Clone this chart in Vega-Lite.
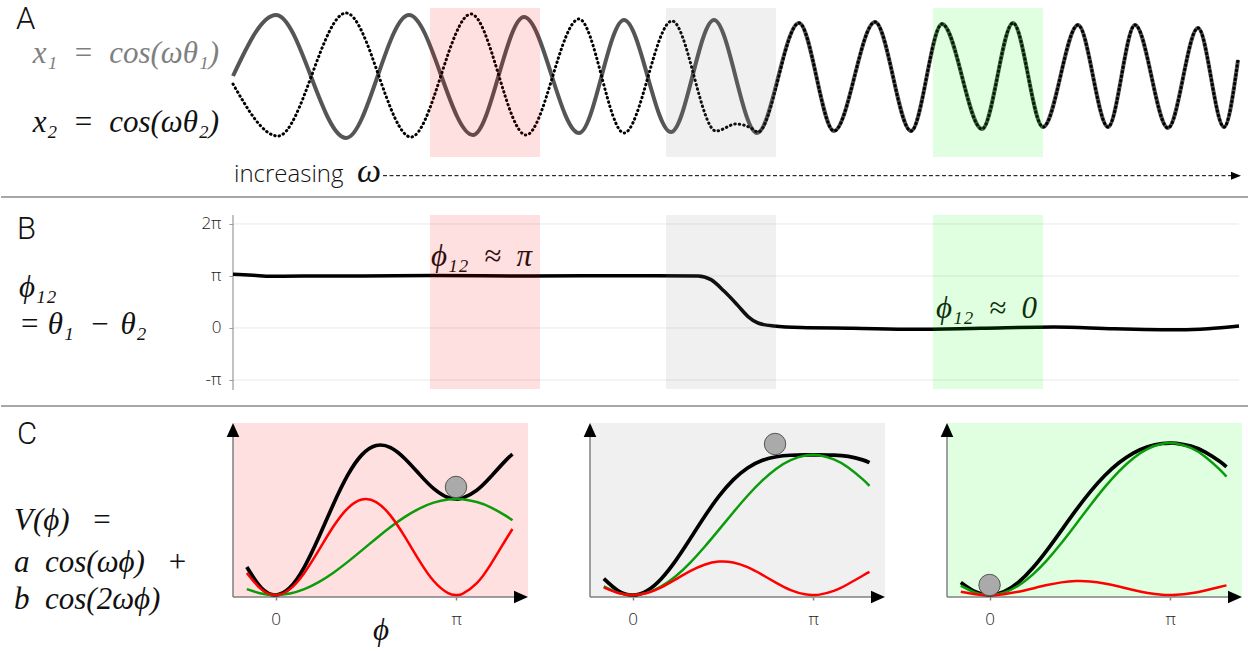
{
  "$schema": "https://vega.github.io/schema/vega-lite/v6.json",
  "padding": 0,
  "bounds": "flush",
  "spacing": 0,
  "background": "white",
  "config": {"view": {"stroke": null}},
  "datasets": {
    "solid": [
      {"t":0,"v":0},{"t":43,"v":1.0},{"t":113,"v":-1.016},{"t":176,"v":1.0},{"t":240,"v":-0.967},{"t":291,"v":0.967},{"t":346,"v":-0.934},{"t":391,"v":0.918},{"t":438,"v":-0.918},{"t":481,"v":0.918},{"t":524,"v":-0.934},{"t":566,"v":0.869},{"t":601,"v":-0.902},{"t":642,"v":0.885},{"t":678,"v":-0.902},{"t":709,"v":0.852},{"t":749,"v":-0.869},{"t":780,"v":0.869},{"t":810,"v":-0.836},{"t":845,"v":0.836},{"t":875,"v":-0.836},{"t":902,"v":0.836},{"t":935,"v":-0.852},{"t":965,"v":0.787},{"t":991,"v":-0.836},{"t":1005,"v":0.262}
    ],
    "dotted": [
      {"t":0,"v":-0.131},{"t":45,"v":-0.984},{"t":113,"v":1.033},{"t":178,"v":-1.0},{"t":238,"v":1.016},{"t":293,"v":-0.967},{"t":346,"v":0.934},{"t":391,"v":-0.934},{"t":439,"v":0.902},{"t":483,"v":-0.902},{"t":503,"v":-0.787},{"t":518,"v":-0.852},{"t":525,"v":-0.918},{"t":566,"v":0.869},{"t":601,"v":-0.902},{"t":642,"v":0.885},{"t":678,"v":-0.902},{"t":709,"v":0.852},{"t":749,"v":-0.869},{"t":780,"v":0.869},{"t":810,"v":-0.836},{"t":845,"v":0.836},{"t":875,"v":-0.836},{"t":902,"v":0.836},{"t":935,"v":-0.852},{"t":965,"v":0.787},{"t":991,"v":-0.836},{"t":1005,"v":0.262}
    ],
    "phase": [
      {"t":0,"v":1.035},{"t":20,"v":1.015},{"t":38,"v":0.995},{"t":70,"v":0.998},{"t":130,"v":1.0},{"t":200,"v":1.008},{"t":300,"v":1.0},{"t":400,"v":1.006},{"t":465,"v":1.0},{"t":478,"v":0.93},{"t":491,"v":0.71},{"t":505,"v":0.43},{"t":515,"v":0.22},{"t":525,"v":0.096},{"t":541,"v":0.038},{"t":568,"v":0.008},{"t":620,"v":-0.005},{"t":681,"v":-0.025},{"t":748,"v":-0.004},{"t":821,"v":0.02},{"t":881,"v":-0.015},{"t":948,"v":-0.035},{"t":975,"v":-0.015},{"t":1006,"v":0.038}
    ],
    "c1": [
      {"phi":-0.5,"green":0.122,"red":0.46,"total":0.582},{"phi":-0.25,"green":0.031,"red":0.122,"total":0.153},{"phi":0,"green":0,"red":0,"total":0},{"phi":0.25,"green":0.031,"red":0.122,"total":0.153},{"phi":0.5,"green":0.122,"red":0.46,"total":0.582},{"phi":0.75,"green":0.268,"red":0.929,"total":1.198},{"phi":1.0,"green":0.46,"red":1.416,"total":1.876},{"phi":1.25,"green":0.685,"red":1.801,"total":2.486},{"phi":1.5,"green":0.929,"red":1.99,"total":2.919},{"phi":1.75,"green":1.178,"red":1.936,"total":3.115},{"phi":2.0,"green":1.416,"red":1.654,"total":3.07},{"phi":2.25,"green":1.628,"red":1.211,"total":2.839},{"phi":2.5,"green":1.801,"red":0.716,"total":2.518},{"phi":2.75,"green":1.924,"red":0.291,"total":2.216},{"phi":3.0,"green":1.99,"red":0.04,"total":2.03},{"phi":3.1416,"green":2.0,"red":0,"total":2.0},{"phi":3.25,"green":1.994,"red":0.023,"total":2.018},{"phi":3.5,"green":1.936,"red":0.246,"total":2.183},{"phi":3.75,"green":1.821,"red":0.653,"total":2.474},{"phi":4.0,"green":1.654,"red":1.146,"total":2.799},{"phi":4.12,"green":1.558,"red":1.376,"total":2.934}
    ],
    "c2": [
      {"phi":-0.5,"green":0.179,"red":0.161,"total":0.34},{"phi":-0.25,"green":0.045,"red":0.043,"total":0.088},{"phi":0,"green":0,"red":0,"total":0},{"phi":0.25,"green":0.045,"red":0.043,"total":0.088},{"phi":0.5,"green":0.179,"red":0.161,"total":0.34},{"phi":0.75,"green":0.392,"red":0.325,"total":0.717},{"phi":1.0,"green":0.671,"red":0.496,"total":1.167},{"phi":1.25,"green":1.0,"red":0.63,"total":1.63},{"phi":1.5,"green":1.357,"red":0.696,"total":2.053},{"phi":1.75,"green":1.72,"red":0.678,"total":2.398},{"phi":2.0,"green":2.068,"red":0.579,"total":2.647},{"phi":2.25,"green":2.377,"red":0.424,"total":2.801},{"phi":2.5,"green":2.63,"red":0.251,"total":2.881},{"phi":2.75,"green":2.809,"red":0.102,"total":2.911},{"phi":3.0,"green":2.905,"red":0.014,"total":2.919},{"phi":3.1416,"green":2.92,"red":0,"total":2.92},{"phi":3.25,"green":2.911,"red":0.008,"total":2.919},{"phi":3.5,"green":2.827,"red":0.086,"total":2.913},{"phi":3.75,"green":2.658,"red":0.229,"total":2.887},{"phi":4.0,"green":2.414,"red":0.401,"total":2.815},{"phi":4.12,"green":2.275,"red":0.482,"total":2.757}
    ],
    "c3": [
      {"phi":-0.5,"green":0.194,"red":0.067,"total":0.261},{"phi":-0.25,"green":0.049,"red":0.018,"total":0.067},{"phi":0,"green":0,"red":0,"total":0},{"phi":0.25,"green":0.049,"red":0.018,"total":0.067},{"phi":0.5,"green":0.194,"red":0.067,"total":0.261},{"phi":0.75,"green":0.425,"red":0.136,"total":0.561},{"phi":1.0,"green":0.728,"red":0.207,"total":0.935},{"phi":1.25,"green":1.084,"red":0.263,"total":1.347},{"phi":1.5,"green":1.471,"red":0.291,"total":1.762},{"phi":1.75,"green":1.865,"red":0.283,"total":2.148},{"phi":2.0,"green":2.242,"red":0.241,"total":2.483},{"phi":2.25,"green":2.577,"red":0.177,"total":2.754},{"phi":2.5,"green":2.851,"red":0.105,"total":2.956},{"phi":2.75,"green":3.046,"red":0.043,"total":3.089},{"phi":3.0,"green":3.15,"red":0.006,"total":3.156},{"phi":3.1416,"green":3.166,"red":0,"total":3.166},{"phi":3.25,"green":3.157,"red":0.003,"total":3.16},{"phi":3.5,"green":3.065,"red":0.036,"total":3.101},{"phi":3.75,"green":2.882,"red":0.095,"total":2.977},{"phi":4.0,"green":2.618,"red":0.167,"total":2.785},{"phi":4.12,"green":2.467,"red":0.201,"total":2.668}
    ]
  },
  "vconcat": [
    {
      "width": 1248, "height": 197,
      "encoding": {
        "x": {"field": "t", "type": "quantitative", "scale": {"domain": [-232, 1016], "nice": false, "zero": false}, "axis": null},
        "y": {"field": "v", "type": "quantitative", "scale": {"domain": [-1.98361, 1.2459], "nice": false, "zero": false}, "axis": null}
      },
      "layer": [
        {"data": {"values": [{"t": -232, "t2": 1016, "v": -1.98361}]}, "mark": {"type": "rule", "color": "#8a8a8a", "strokeWidth": 1.5}, "encoding": {"x2": {"field": "t2"}}},
        {"data": {"name": "solid"}, "mark": {"type": "line", "color": "#555555", "strokeWidth": 4, "interpolate": "monotone"}},
        {"data": {"name": "dotted"}, "mark": {"type": "line", "color": "black", "strokeWidth": 3, "strokeDash": [0.5, 4], "strokeCap": "round", "interpolate": "monotone"}},
        {"data": {"values": [
            {"t": 197, "t2": 307, "v": 1.115, "v2": -1.328, "state": "anti"},
            {"t": 433, "t2": 543, "v": 1.115, "v2": -1.328, "state": "trans"},
            {"t": 700, "t2": 810, "v": 1.115, "v2": -1.328, "state": "in"}]},
         "mark": {"type": "rect", "opacity": 0.12},
         "encoding": {"x2": {"field": "t2"}, "y2": {"field": "v2"},
           "color": {"field": "state", "type": "nominal", "scale": {"domain": ["anti", "trans", "in"], "range": ["#ff0000", "#808080", "#00ff00"]}, "legend": null}}},
        {"data": {"values": [{"t": -217, "v": 1.164, "label": "A"}]}, "mark": {"type": "text", "font": "Roboto", "fontWeight": 300, "fontSize": 31, "align": "left", "baseline": "top", "color": "#111111"}, "encoding": {"text": {"field": "label"}}},
        {"data": {"values": [{"t": -14, "v": 0.205, "label": "x₁\u2002=\u2002cos(ωθ₁)"}]}, "mark": {"type": "text", "font": "Liberation Serif", "fontStyle": "italic", "fontSize": 31, "align": "right", "baseline": "alphabetic", "color": "#7f7f7f"}, "encoding": {"text": {"field": "label"}}},
        {"data": {"values": [{"t": -14, "v": -0.913, "label": "x₂\u2002=\u2002cos(ωθ₂)"}]}, "mark": {"type": "text", "font": "Liberation Serif", "fontStyle": "italic", "fontSize": 31, "align": "right", "baseline": "alphabetic", "color": "#111111"}, "encoding": {"text": {"field": "label"}}},
        {"data": {"values": [{"t": 1, "v": -1.733, "label": "increasing"}]}, "mark": {"type": "text", "font": "Open Sans", "fontWeight": 300, "fontSize": 24, "align": "left", "baseline": "alphabetic", "color": "#111111"}, "encoding": {"text": {"field": "label"}}},
        {"data": {"values": [{"t": 124, "v": -1.733, "label": "ω"}]}, "mark": {"type": "text", "font": "Liberation Serif", "fontStyle": "italic", "fontSize": 34, "align": "left", "baseline": "alphabetic", "color": "#111111"}, "encoding": {"text": {"field": "label"}}},
        {"data": {"values": [{"t": 150, "t2": 1000, "v": -1.634}]}, "mark": {"type": "rule", "color": "black", "strokeWidth": 1, "strokeDash": [4, 2.5]}, "encoding": {"x2": {"field": "t2"}}},
        {"data": {"values": [{"t": 1003, "v": -1.634}]}, "mark": {"type": "point", "shape": "M1,0L-1,-0.8L-1,0.8Z", "size": 100, "filled": true, "color": "black", "opacity": 1}}
      ]
    },
    {
      "width": 1248, "height": 209,
      "encoding": {
        "x": {"field": "t", "type": "quantitative", "scale": {"domain": [-232, 1016], "nice": false, "zero": false}, "axis": null},
        "y": {"field": "v", "type": "quantitative", "scale": {"domain": [-1.5, 2.5192], "nice": false, "zero": false},
          "axis": {"values": [-1, 0, 1, 2], "labelExpr": "datum.value == 2 ? '2π' : datum.value == 1 ? 'π' : datum.value == 0 ? '0' : '-π'", "offset": -232, "tickSize": 4, "tickColor": "#999999", "labelPadding": 8, "domain": false, "grid": false, "title": null, "labelFont": "Open Sans", "labelFontWeight": 300, "labelFontSize": 17, "labelColor": "#222222"}}
      },
      "layer": [
        {"data": {"values": [{"t": -232, "t2": 1016, "v": -1.5}]}, "mark": {"type": "rule", "color": "#8a8a8a", "strokeWidth": 1.5}, "encoding": {"x2": {"field": "t2"}}},
        {"data": {"values": [{"t": 0, "t2": 1006, "v": -1}, {"t": 0, "t2": 1006, "v": 0}, {"t": 0, "t2": 1006, "v": 1}, {"t": 0, "t2": 1006, "v": 2}]}, "mark": {"type": "rule", "color": "#e8e8e8", "strokeWidth": 1}, "encoding": {"x2": {"field": "t2"}}},
        {"data": {"values": [{"t": 0, "v": -1.192, "v2": 2.173}]}, "mark": {"type": "rule", "color": "#999999", "strokeWidth": 1.2}, "encoding": {"y2": {"field": "v2"}}},
        {"data": {"name": "phase"}, "mark": {"type": "line", "color": "black", "strokeWidth": 3.5, "interpolate": "monotone"}},
        {"data": {"values": [{"t": -216, "v": 2.173, "label": "B"}]}, "mark": {"type": "text", "font": "Roboto", "fontWeight": 300, "fontSize": 31, "align": "left", "baseline": "top", "color": "#111111"}, "encoding": {"text": {"field": "label"}}},
        {"data": {"values": [{"t": -214, "v": 0.596, "label": "ϕ₁₂"}, {"t": -214, "v": -0.125, "label": "= θ₁\u2002−\u2004θ₂"}]}, "mark": {"type": "text", "font": "Liberation Serif", "fontStyle": "italic", "fontSize": 31, "align": "left", "baseline": "alphabetic", "color": "#111111"}, "encoding": {"text": {"field": "label"}}},
        {"data": {"values": [{"t": 198, "v": 1.192, "label": "ϕ₁₂\u2002≈\u2002π"}, {"t": 703, "v": 0.192, "label": "ϕ₁₂\u2002≈\u20020"}]}, "mark": {"type": "text", "font": "Liberation Serif", "fontStyle": "italic", "fontSize": 31, "align": "left", "baseline": "alphabetic", "color": "#111111"}, "encoding": {"text": {"field": "label"}}},
        {"data": {"values": [
            {"t": 197, "t2": 307, "v": 2.173, "v2": -1.173, "state": "anti"},
            {"t": 433, "t2": 543, "v": 2.173, "v2": -1.173, "state": "trans"},
            {"t": 700, "t2": 810, "v": 2.173, "v2": -1.173, "state": "in"}]},
         "mark": {"type": "rect", "opacity": 0.12},
         "encoding": {"x2": {"field": "t2"}, "y2": {"field": "v2"},
           "color": {"field": "state", "type": "nominal", "scale": {"domain": ["anti", "trans", "in"], "range": ["#ff0000", "#808080", "#00ff00"]}, "legend": null}}}
      ]
    },
    {
      "hconcat": [
        {
          "width": 527, "height": 245,
          "encoding": {
            "x": {"field": "phi", "type": "quantitative", "scale": {"domain": [-4.7744, 4.39], "nice": false, "zero": false},
              "axis": {"values": [0, 3.14159], "labelExpr": "datum.value < 1 ? '0' : 'π'", "offset": -54, "tickSize": 3, "tickColor": "#808080", "tickWidth": 1.5, "labelPadding": 11, "domain": false, "grid": false, "title": null, "labelFont": "Open Sans", "labelFontWeight": 300, "labelFontSize": 17, "labelColor": "#222222"}}
          },
          "layer": [
            {"data": {"values": [{"phi": -0.74, "phi2": 4.39, "v": -0.0417, "v2": 3.5833}]}, "mark": {"type": "rect", "color": "#ff0000", "opacity": 0.12}, "encoding": {"x2": {"field": "phi2"}, "y": {"field": "v", "type": "quantitative", "scale": {"domain": [-1.1667, 3.9375], "nice": false, "zero": false}, "axis": null}, "y2": {"field": "v2"}}},
            {"data": {"values": [{"phi": -0.74, "phi2": -0.74, "v": -0.0417, "v2": 3.4375}, {"phi": -0.74, "phi2": 4.268, "v": -0.0417, "v2": -0.0417}]}, "mark": {"type": "rule", "color": "#808080", "strokeWidth": 1.5}, "encoding": {"x2": {"field": "phi2"}, "y": {"field": "v", "type": "quantitative", "scale": {"domain": [-1.1667, 3.9375], "nice": false, "zero": false}, "axis": null}, "y2": {"field": "v2"}}},
            {"data": {"values": [{"phi": -0.74, "v": 3.4375}]}, "mark": {"type": "point", "shape": "M0,-1L0.9,1L-0.9,1Z", "size": 196, "filled": true, "color": "black", "opacity": 1}, "encoding": {"y": {"field": "v", "type": "quantitative", "scale": {"domain": [-1.1667, 3.9375], "nice": false, "zero": false}, "axis": null}}},
            {"data": {"values": [{"phi": 4.268, "v": -0.0417}]}, "mark": {"type": "point", "shape": "M1,0L-1,-0.9L-1,0.9Z", "size": 196, "filled": true, "color": "black", "opacity": 1}, "encoding": {"y": {"field": "v", "type": "quantitative", "scale": {"domain": [-1.1667, 3.9375], "nice": false, "zero": false}, "axis": null}}},
            {"data": {"name": "c1"}, "mark": {"type": "line", "color": "black", "strokeWidth": 3.7, "interpolate": "natural"}, "encoding": {"y": {"field": "total", "type": "quantitative", "scale": {"domain": [-1.1667, 3.9375], "nice": false, "zero": false}, "axis": null}}},
            {"data": {"name": "c1"}, "mark": {"type": "line", "color": "#0b9c0b", "strokeWidth": 2.5, "interpolate": "natural"}, "encoding": {"y": {"field": "green", "type": "quantitative", "scale": {"domain": [-1.1667, 3.9375], "nice": false, "zero": false}, "axis": null}}},
            {"data": {"name": "c1"}, "mark": {"type": "line", "color": "#ff0000", "strokeWidth": 2.5, "interpolate": "natural"}, "encoding": {"y": {"field": "red", "type": "quantitative", "scale": {"domain": [-1.1667, 3.9375], "nice": false, "zero": false}, "axis": null}}},
            {"data": {"values": [{"phi": 3.138, "v": 2.25}]}, "mark": {"type": "point", "shape": "circle", "size": 460, "filled": true, "fill": "#aaaaaa", "stroke": "#555555", "strokeWidth": 1, "opacity": 1}, "encoding": {"y": {"field": "v", "type": "quantitative", "scale": {"domain": [-1.1667, 3.9375], "nice": false, "zero": false}, "axis": null}}},
            {"data": {"values": [{"phi": -4.496, "v": 3.646, "label": "C"}]}, "mark": {"type": "text", "font": "Roboto", "fontWeight": 300, "fontSize": 31, "align": "left", "baseline": "top", "color": "#111111"}, "encoding": {"text": {"field": "label"}, "y": {"field": "v", "type": "quantitative", "scale": {"domain": [-1.1667, 3.9375], "nice": false, "zero": false}, "axis": null}}},
            {"data": {"values": [{"phi": -4.548, "v": 1.354, "label": "V(ϕ)\u2002\u2009="}, {"phi": -4.548, "v": 0.479, "label": "a\u2002cos(ωϕ)\u2002\u2009+"}, {"phi": -4.548, "v": -0.2917, "label": "b\u2002cos(2ωϕ)"}]}, "mark": {"type": "text", "font": "Liberation Serif", "fontStyle": "italic", "fontSize": 31, "align": "left", "baseline": "alphabetic", "color": "#111111"}, "encoding": {"text": {"field": "label"}, "y": {"field": "v", "type": "quantitative", "scale": {"domain": [-1.1667, 3.9375], "nice": false, "zero": false}, "axis": null}}},
            {"data": {"values": [{"phi": 1.834, "v": -0.9375, "label": "ϕ"}]}, "mark": {"type": "text", "font": "Liberation Serif", "fontStyle": "italic", "fontSize": 31, "align": "center", "baseline": "alphabetic", "color": "#111111"}, "encoding": {"text": {"field": "label"}, "y": {"field": "v", "type": "quantitative", "scale": {"domain": [-1.1667, 3.9375], "nice": false, "zero": false}, "axis": null}}}
          ]
        },
        {
          "width": 295, "height": 245,
          "encoding": {
            "x": {"field": "phi", "type": "quantitative", "scale": {"domain": [-0.74, 4.39], "nice": false, "zero": false},
              "axis": {"values": [0, 3.14159], "labelExpr": "datum.value < 1 ? '0' : 'π'", "offset": -54, "tickSize": 3, "tickColor": "#808080", "tickWidth": 1.5, "labelPadding": 11, "domain": false, "grid": false, "title": null, "labelFont": "Open Sans", "labelFontWeight": 300, "labelFontSize": 17, "labelColor": "#222222"}}
          },
          "layer": [
            {"data": {"values": [{"phi": -0.74, "phi2": 4.39, "v": -0.0417, "v2": 3.5833}]}, "mark": {"type": "rect", "color": "#808080", "opacity": 0.12}, "encoding": {"x2": {"field": "phi2"}, "y": {"field": "v", "type": "quantitative", "scale": {"domain": [-1.1667, 3.9375], "nice": false, "zero": false}, "axis": null}, "y2": {"field": "v2"}}},
            {"data": {"values": [{"phi": -0.74, "phi2": -0.74, "v": -0.0417, "v2": 3.4375}, {"phi": -0.74, "phi2": 4.268, "v": -0.0417, "v2": -0.0417}]}, "mark": {"type": "rule", "color": "#808080", "strokeWidth": 1.5}, "encoding": {"x2": {"field": "phi2"}, "y": {"field": "v", "type": "quantitative", "scale": {"domain": [-1.1667, 3.9375], "nice": false, "zero": false}, "axis": null}, "y2": {"field": "v2"}}},
            {"data": {"values": [{"phi": -0.74, "v": 3.4375}]}, "mark": {"type": "point", "shape": "M0,-1L0.9,1L-0.9,1Z", "size": 196, "filled": true, "color": "black", "opacity": 1}, "encoding": {"y": {"field": "v", "type": "quantitative", "scale": {"domain": [-1.1667, 3.9375], "nice": false, "zero": false}, "axis": null}}},
            {"data": {"values": [{"phi": 4.268, "v": -0.0417}]}, "mark": {"type": "point", "shape": "M1,0L-1,-0.9L-1,0.9Z", "size": 196, "filled": true, "color": "black", "opacity": 1}, "encoding": {"y": {"field": "v", "type": "quantitative", "scale": {"domain": [-1.1667, 3.9375], "nice": false, "zero": false}, "axis": null}}},
            {"data": {"name": "c2"}, "mark": {"type": "line", "color": "black", "strokeWidth": 3.7, "interpolate": "natural"}, "encoding": {"y": {"field": "total", "type": "quantitative", "scale": {"domain": [-1.1667, 3.9375], "nice": false, "zero": false}, "axis": null}}},
            {"data": {"name": "c2"}, "mark": {"type": "line", "color": "#0b9c0b", "strokeWidth": 2.5, "interpolate": "natural"}, "encoding": {"y": {"field": "green", "type": "quantitative", "scale": {"domain": [-1.1667, 3.9375], "nice": false, "zero": false}, "axis": null}}},
            {"data": {"name": "c2"}, "mark": {"type": "line", "color": "#ff0000", "strokeWidth": 2.5, "interpolate": "natural"}, "encoding": {"y": {"field": "red", "type": "quantitative", "scale": {"domain": [-1.1667, 3.9375], "nice": false, "zero": false}, "axis": null}}},
            {"data": {"values": [{"phi": 2.478, "v": 3.146}]}, "mark": {"type": "point", "shape": "circle", "size": 460, "filled": true, "fill": "#aaaaaa", "stroke": "#555555", "strokeWidth": 1, "opacity": 1}, "encoding": {"y": {"field": "v", "type": "quantitative", "scale": {"domain": [-1.1667, 3.9375], "nice": false, "zero": false}, "axis": null}}}
          ]
        },
        {
          "width": 295, "height": 245,
          "encoding": {
            "x": {"field": "phi", "type": "quantitative", "scale": {"domain": [-0.74, 4.39], "nice": false, "zero": false},
              "axis": {"values": [0, 3.14159], "labelExpr": "datum.value < 1 ? '0' : 'π'", "offset": -54, "tickSize": 3, "tickColor": "#808080", "tickWidth": 1.5, "labelPadding": 11, "domain": false, "grid": false, "title": null, "labelFont": "Open Sans", "labelFontWeight": 300, "labelFontSize": 17, "labelColor": "#222222"}}
          },
          "layer": [
            {"data": {"values": [{"phi": -0.74, "phi2": 4.39, "v": -0.0417, "v2": 3.5833}]}, "mark": {"type": "rect", "color": "#00ff00", "opacity": 0.12}, "encoding": {"x2": {"field": "phi2"}, "y": {"field": "v", "type": "quantitative", "scale": {"domain": [-1.1667, 3.9375], "nice": false, "zero": false}, "axis": null}, "y2": {"field": "v2"}}},
            {"data": {"values": [{"phi": -0.74, "phi2": -0.74, "v": -0.0417, "v2": 3.4375}, {"phi": -0.74, "phi2": 4.268, "v": -0.0417, "v2": -0.0417}]}, "mark": {"type": "rule", "color": "#808080", "strokeWidth": 1.5}, "encoding": {"x2": {"field": "phi2"}, "y": {"field": "v", "type": "quantitative", "scale": {"domain": [-1.1667, 3.9375], "nice": false, "zero": false}, "axis": null}, "y2": {"field": "v2"}}},
            {"data": {"values": [{"phi": -0.74, "v": 3.4375}]}, "mark": {"type": "point", "shape": "M0,-1L0.9,1L-0.9,1Z", "size": 196, "filled": true, "color": "black", "opacity": 1}, "encoding": {"y": {"field": "v", "type": "quantitative", "scale": {"domain": [-1.1667, 3.9375], "nice": false, "zero": false}, "axis": null}}},
            {"data": {"values": [{"phi": 4.268, "v": -0.0417}]}, "mark": {"type": "point", "shape": "M1,0L-1,-0.9L-1,0.9Z", "size": 196, "filled": true, "color": "black", "opacity": 1}, "encoding": {"y": {"field": "v", "type": "quantitative", "scale": {"domain": [-1.1667, 3.9375], "nice": false, "zero": false}, "axis": null}}},
            {"data": {"name": "c3"}, "mark": {"type": "line", "color": "black", "strokeWidth": 3.7, "interpolate": "natural"}, "encoding": {"y": {"field": "total", "type": "quantitative", "scale": {"domain": [-1.1667, 3.9375], "nice": false, "zero": false}, "axis": null}}},
            {"data": {"name": "c3"}, "mark": {"type": "line", "color": "#0b9c0b", "strokeWidth": 2.5, "interpolate": "natural"}, "encoding": {"y": {"field": "green", "type": "quantitative", "scale": {"domain": [-1.1667, 3.9375], "nice": false, "zero": false}, "axis": null}}},
            {"data": {"name": "c3"}, "mark": {"type": "line", "color": "#ff0000", "strokeWidth": 2.5, "interpolate": "natural"}, "encoding": {"y": {"field": "red", "type": "quantitative", "scale": {"domain": [-1.1667, 3.9375], "nice": false, "zero": false}, "axis": null}}},
            {"data": {"values": [{"phi": 0, "v": 0.208}]}, "mark": {"type": "point", "shape": "circle", "size": 460, "filled": true, "fill": "#aaaaaa", "stroke": "#555555", "strokeWidth": 1, "opacity": 1}, "encoding": {"y": {"field": "v", "type": "quantitative", "scale": {"domain": [-1.1667, 3.9375], "nice": false, "zero": false}, "axis": null}}}
          ]
        }
      ],
      "spacing": 62,
      "bounds": "flush"
    }
  ]
}
